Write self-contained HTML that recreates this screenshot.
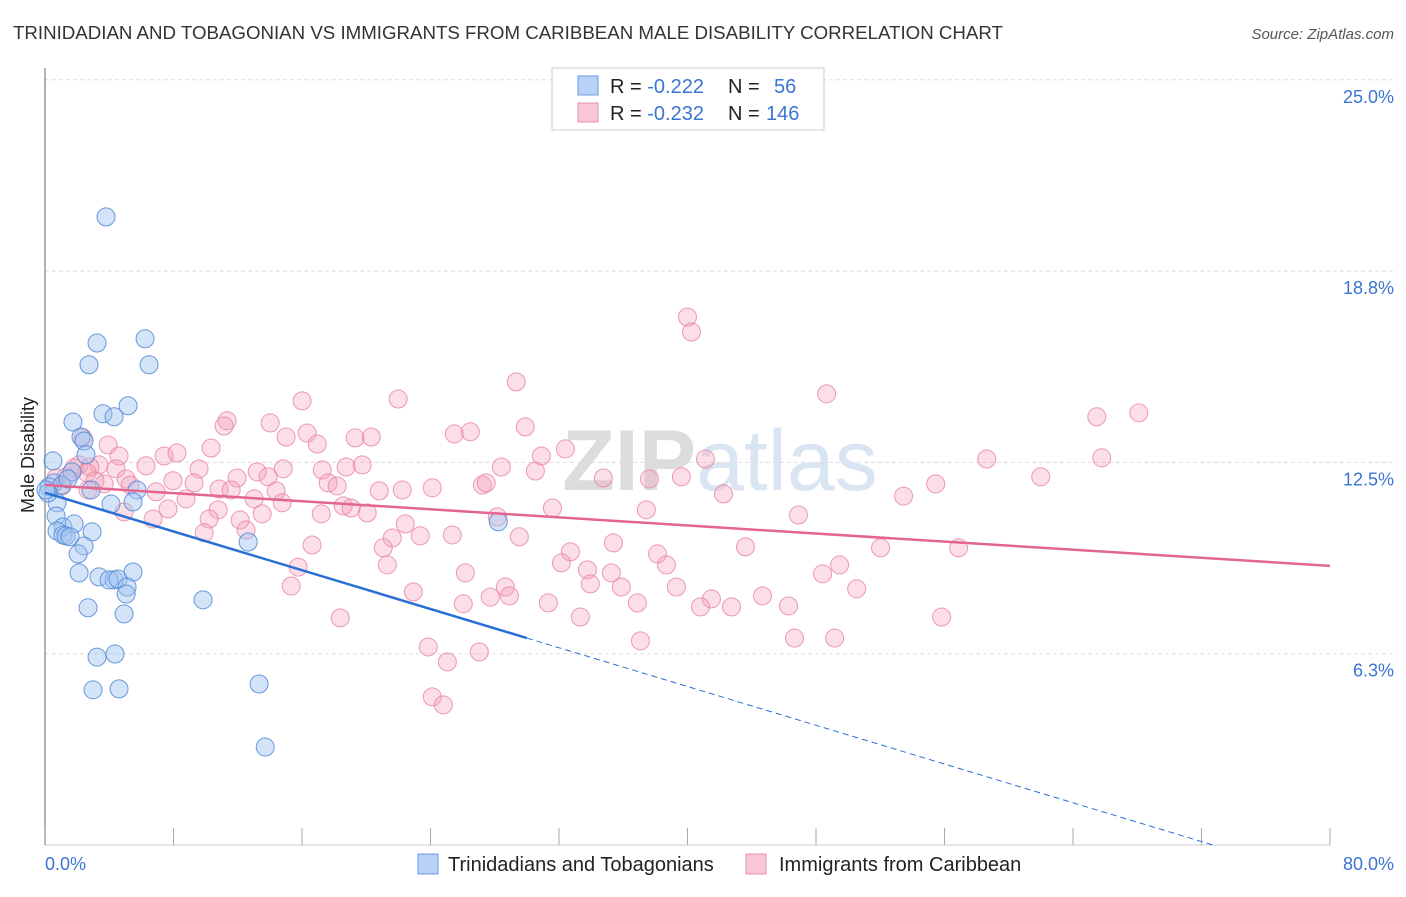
<!DOCTYPE html>
<html><head><meta charset="utf-8"><style>
body{margin:0;background:#fff;font-family:"Liberation Sans",sans-serif}
svg text{font-family:"Liberation Sans",sans-serif}
</style></head><body>
<svg width="1406" height="892">
<text x="13" y="39" font-size="18.7" fill="#333">TRINIDADIAN AND TOBAGONIAN VS IMMIGRANTS FROM CARIBBEAN MALE DISABILITY CORRELATION CHART</text>
<text x="1394" y="39" font-size="15" font-style="italic" fill="#555" text-anchor="end">Source: ZipAtlas.com</text>
<g id="grid"></g>
<text x="720" y="490" font-size="86" fill="#e4e4e4" text-anchor="middle" font-family="Liberation Serif"><tspan fill="#dcdcdc" font-weight="bold">ZIP</tspan><tspan fill="#dae5f4" font-family="Liberation Sans">atlas</tspan></text>
<g id="pts"></g>
<g id="lines"></g>
<text transform="translate(34,455) rotate(-90)" font-size="18" fill="#222" text-anchor="middle">Male Disability</text>
<text x="45" y="870" font-size="18" fill="#3a74d4">0.0%</text>
<text x="1394" y="870" font-size="18" fill="#3a74d4" text-anchor="end">80.0%</text>
<g>
<rect x="552" y="68" width="272" height="62" fill="#fff" stroke="#ccc"/>
<rect x="578" y="76" width="20" height="19" fill="#b8d2f5" stroke="#6b9ae0"/>
<rect x="578" y="103" width="20" height="19" fill="#f8c6d4" stroke="#e890aa"/>
<text x="610" y="93" font-size="20" fill="#222">R = <tspan fill="#3a74d4">-0.222</tspan><tspan x="728">N = </tspan><tspan x="774" fill="#3a74d4">56</tspan></text>
<text x="610" y="120" font-size="20" fill="#222">R = <tspan fill="#3a74d4">-0.232</tspan><tspan x="728">N = </tspan><tspan x="766" fill="#3a74d4">146</tspan></text>
</g>
<g>
<rect x="418" y="854" width="20" height="20" fill="#b8d2f5" stroke="#6b9ae0"/>
<text x="448" y="871" font-size="20" fill="#222">Trinidadians and Tobagonians</text>
<rect x="746" y="854" width="20" height="20" fill="#f8c6d4" stroke="#e890aa"/>
<text x="779" y="871" font-size="20" fill="#222">Immigrants from Caribbean</text>
</g>
</svg>
<script>
const yTicks=[6.25,12.5,18.75,25];
const yTickLabels=["6.3%","12.5%","18.8%","25.0%"];
const blueX=[3.80,3.24,6.23,2.74,6.48,1.74,3.61,4.30,5.17,2.24,2.43,2.55,0.50,1.68,2.87,5.73,0.56,0.25,1.06,1.43,0.75,4.11,5.48,0.69,1.12,1.81,0.75,1.12,1.31,1.56,2.93,2.43,2.06,0.19,0.06,12.65,28.22,2.12,3.36,4.30,3.99,4.55,5.48,5.11,5.05,2.68,4.92,9.84,3.24,4.36,2.99,4.61,13.33,13.71];
const blueY=[20.52,16.40,16.54,15.69,15.69,13.82,14.09,13.99,14.35,13.33,13.20,12.75,12.55,12.19,11.60,11.60,11.83,11.70,11.76,11.96,11.18,11.14,11.21,10.75,10.39,10.49,10.26,10.13,10.10,10.07,10.23,9.77,9.51,11.50,11.60,9.90,10.56,8.89,8.76,8.66,8.66,8.69,8.92,8.43,8.20,7.75,7.55,8.01,6.14,6.24,5.07,5.10,5.26,3.20];
const pinkX=[40.0,40.25,29.34,48.66,21.99,16.01,65.48,68.10,11.34,11.15,14.02,16.32,25.48,26.48,29.90,19.31,20.31,15.01,16.95,3.93,2.37,10.34,7.41,8.22,4.61,32.40,30.90,41.12,58.63,65.79,2.12,3.36,2.80,4.42,6.29,9.59,13.21,14.83,17.26,18.75,19.75,28.41,34.76,37.63,39.62,30.53,61.99,11.96,13.89,7.97,9.28,10.84,11.59,14.39,17.63,18.19,20.81,22.24,24.11,27.23,27.47,42.24,55.45,53.45,3.68,5.05,6.92,8.78,13.02,14.77,18.57,19.06,20.06,31.59,37.44,46.91,4.92,10.78,10.22,13.52,17.20,7.66,12.15,12.52,6.73,9.91,22.43,21.62,23.36,29.53,35.39,16.63,21.06,25.36,28.16,32.71,38.13,43.61,52.02,56.88,15.76,21.31,26.17,32.15,33.77,35.26,38.69,49.47,48.41,15.33,22.93,28.66,28.91,33.95,35.88,39.31,44.67,27.72,26.04,31.34,36.88,41.49,40.81,42.74,46.29,50.53,18.38,33.33,55.82,46.66,49.16,37.07,23.86,27.04,25.05,24.11,24.80,5.30,1.31,0.69,1.81,2.62,1.06,3.11,2.68];
const pinkY=[17.25,16.76,15.13,14.74,14.57,14.51,13.99,14.12,13.86,13.69,13.79,13.46,13.43,13.50,13.66,13.30,13.33,13.33,13.10,13.07,13.30,12.97,12.71,12.81,12.71,12.94,12.71,12.61,12.61,12.65,12.42,12.42,12.35,12.29,12.39,12.29,12.19,12.29,12.25,12.35,12.42,12.35,11.99,11.96,12.03,12.22,12.03,11.99,12.03,11.90,11.83,11.63,11.60,11.57,11.83,11.73,11.57,11.60,11.67,11.76,11.83,11.47,11.80,11.40,11.80,11.96,11.54,11.31,11.31,11.18,11.08,11.01,10.85,11.01,10.95,10.78,10.88,10.95,10.65,10.82,10.82,10.98,10.62,10.29,10.65,10.20,10.49,10.03,10.10,10.07,9.87,9.80,9.71,10.13,10.72,9.58,9.51,9.74,9.71,9.71,9.08,9.15,8.89,9.22,8.99,8.89,9.15,9.15,8.86,8.46,8.27,8.43,8.14,8.53,8.43,8.43,8.14,8.10,7.88,7.91,7.91,8.04,7.78,7.78,7.81,8.37,7.42,7.45,7.45,6.76,6.76,6.67,6.47,6.31,5.98,4.84,4.58,11.76,12.03,11.99,12.32,12.16,11.73,11.90,11.60];
const blueTrend=[11.51,-0.1583];
const pinkTrend=[11.76,-0.033];
const blueSolidEnd=30;
const NS="http://www.w3.org/2000/svg";
const X0=45,X1=1330,Y0=845,PXPER=191.3/6.25;
const xs=v=>X0+v/80*(X1-X0), ys=v=>Y0-v*PXPER;
function mk(tag,attrs,parent){const e=document.createElementNS(NS,tag);for(const k in attrs)e.setAttribute(k,attrs[k]);parent.appendChild(e);return e;}
const grid=document.getElementById('grid');
yTicks.forEach((t,i)=>{
 const l=mk('line',{x1:X0,x2:1394,y1:ys(t),y2:ys(t),stroke:'#ddd','stroke-dasharray':'4,3'},grid);
 
 
 const tx=mk('text',{x:1394,y:ys(t)+23,'font-size':18,fill:'#3a74d4','text-anchor':'end'},grid);
 tx.textContent=yTickLabels[i];
 
 
});
const ax=mk('line',{x1:X0,x2:X0,y1:68,y2:Y0,stroke:'#999','stroke-width':1.5},grid);


const bx=mk('line',{x1:X0,x2:X1,y1:Y0,y2:Y0,stroke:'#ccc'},grid);


for(let i=0;i<=10;i++){const t=mk('line',{x1:xs(i*8),x2:xs(i*8),y1:828,y2:Y0,stroke:'#aaa'},grid);
 
 }
const pts=document.getElementById('pts');
pinkX.forEach((x,i)=>{const c=mk('circle',{cx:xs(x),cy:ys(pinkY[i]),r:9,fill:'rgba(244,160,185,0.35)',stroke:'rgba(232,130,160,0.8)','stroke-width':1},pts);
 
 });
blueX.forEach((x,i)=>{const c=mk('circle',{cx:xs(x),cy:ys(blueY[i]),r:9,fill:'rgba(160,195,240,0.45)',stroke:'rgba(80,135,215,0.85)','stroke-width':1},pts);
 
 });
const lines=document.getElementById('lines');
const bf=x=>blueTrend[0]+blueTrend[1]*x;
const xZero=-blueTrend[0]/blueTrend[1];
const l1=mk('line',{x1:xs(0),y1:ys(bf(0)),x2:xs(blueSolidEnd),y2:ys(bf(blueSolidEnd)),stroke:'#2a6fd6','stroke-width':2.5},lines);


const l2=mk('line',{x1:xs(blueSolidEnd),y1:ys(bf(blueSolidEnd)),x2:xs(xZero),y2:ys(0),stroke:'#2a6fd6','stroke-width':1,'stroke-dasharray':'6,4'},lines);


const pf=x=>pinkTrend[0]+pinkTrend[1]*x;
const l3=mk('line',{x1:xs(0),y1:ys(pf(0)),x2:xs(80),y2:ys(pf(80)),stroke:'#e26690','stroke-width':2.5},lines);


</script>
</body></html>
